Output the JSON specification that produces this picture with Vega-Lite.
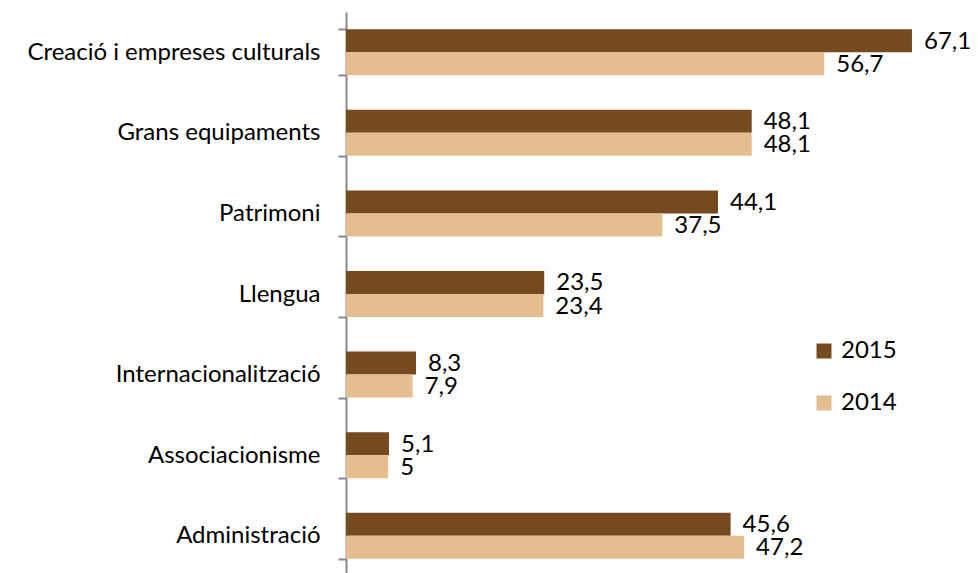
{
  "$schema": "https://vega.github.io/schema/vega-lite/v6.json",
  "autosize": "none",
  "padding": {"left": 346, "top": 12, "right": 0, "bottom": 0},
  "width": 632,
  "height": 564,
  "background": "white",
  "config": {
    "view": {"stroke": null},
    "font": "Lato",
    "locale": {"number": {"decimal": ",", "thousands": ".", "grouping": [3], "currency": ["", " €"]}}
  },
  "data": {
    "values": [
      {"area": "Creació i empreses culturals", "year": "2015", "value": 67.1},
      {"area": "Creació i empreses culturals", "year": "2014", "value": 56.7},
      {"area": "Grans equipaments", "year": "2015", "value": 48.1},
      {"area": "Grans equipaments", "year": "2014", "value": 48.1},
      {"area": "Patrimoni", "year": "2015", "value": 44.1},
      {"area": "Patrimoni", "year": "2014", "value": 37.5},
      {"area": "Llengua", "year": "2015", "value": 23.5},
      {"area": "Llengua", "year": "2014", "value": 23.4},
      {"area": "Internacionalització", "year": "2015", "value": 8.3},
      {"area": "Internacionalització", "year": "2014", "value": 7.9},
      {"area": "Associacionisme", "year": "2015", "value": 5.1},
      {"area": "Associacionisme", "year": "2014", "value": 5},
      {"area": "Administració", "year": "2015", "value": 45.6},
      {"area": "Administració", "year": "2014", "value": 47.2}
    ]
  },
  "encoding": {
    "y": {
      "field": "area", "type": "nominal", "sort": null,
      "scale": {"paddingInner": 0.429, "paddingOuter": 0.2145},
      "axis": {
        "title": null, "domainColor": "#888888", "domainWidth": 2,
        "tickBand": "extent", "tickColor": "#888888", "tickWidth": 2, "tickSize": 8,
        "labelPadding": 18, "labelFontSize": 24, "labelFontWeight": "normal", "labelColor": "#000000", "labelFont": "Lato",
        "labelLimit": 400
      }
    },
    "yOffset": {"field": "year", "type": "nominal", "sort": ["2015", "2014"]},
    "x": {
      "field": "value", "type": "quantitative",
      "scale": {"domain": [0, 74.93], "nice": false},
      "axis": null
    }
  },
  "layer": [
    {
      "mark": {"type": "bar", "cornerRadius": 0},
      "encoding": {
        "color": {
          "field": "year", "type": "nominal",
          "scale": {"domain": ["2015", "2014"], "range": ["#744A1E", "#E5BE90"]},
          "legend": {
            "title": null, "orient": "none", "legendX": 466, "legendY": 327,
            "symbolType": "square", "symbolSize": 225, "symbolStrokeWidth": 0,
            "labelFontSize": 24, "labelFontWeight": "normal", "labelColor": "#000000", "labelFont": "Lato",
            "rowPadding": 28, "labelOffset": 5, "padding": 0
          }
        }
      }
    },
    {
      "mark": {"type": "text", "align": "left", "baseline": "middle", "dx": 12, "dy": 1, "fontSize": 24, "fontWeight": "normal", "color": "#000000", "font": "Lato"},
      "encoding": {
        "text": {"field": "value", "type": "quantitative", "format": "~g"}
      }
    }
  ]
}
